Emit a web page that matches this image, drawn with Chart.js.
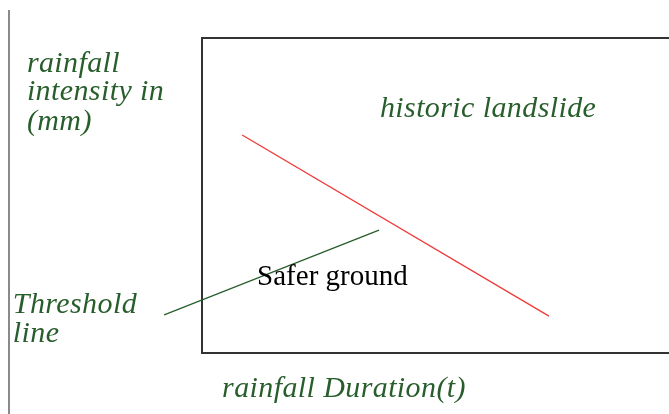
<!DOCTYPE html>
<html>
<head>
<meta charset="utf-8">
<script src="https://cdn.jsdelivr.net/npm/chart.js@4/dist/chart.umd.min.js"></script>
<style>
  html, body { margin: 0; padding: 0; background: #fff; overflow: hidden; }
</style>
</head>
<body>
<canvas id="myChart" width="669" height="414"></canvas>
<script>
// dati del grafico (durata sull'asse x, intensita sull'asse y, scala 0-100)
var durationLandslide = [8.6, 74.3];
var intensityLandslide = [69.2, 11.7];
var durationThreshold = [-8.1, 37.9];
var intensityThreshold = [12.1, 39.0];

// etichette di testo
var labelTexts = ['rainfall', 'intensity in', '(mm)', 'historic landslide', 'Safer ground', 'Threshold', 'line', 'rainfall Duration(t)'];
var labelX = [-37.5, -37.5, -37.5, 38.1, 11.8, -40.5, -40.5, 4.3];
var labelY = [89.2, 80.3, 70.8, 74.9, 21.6, 12.7, 3.5, -14.0];

var green = '#285e2c';
var italicFont = 'italic 30px "Liberation Serif", serif';
var plainFont = '29px "Liberation Serif", serif';

function points(xs, ys) {
  return xs.map(function (x, i) { return { x: x, y: ys[i] }; });
}

// plugin per le scritte e la linea grigia a sinistra
var textPlugin = {
  id: 'texts',
  afterDraw: function (chart) {
    var ctx = chart.ctx;
    var xs = chart.scales.x, ys = chart.scales.y;
    ctx.save();
    ctx.strokeStyle = '#8a8a8a';
    ctx.lineWidth = 2;
    ctx.beginPath();
    ctx.moveTo(9, 10);
    ctx.lineTo(9, 414);
    ctx.stroke();
    ctx.textBaseline = 'alphabetic';
    ctx.textAlign = 'left';
    labelTexts.forEach(function (t, i) {
      var plain = t === 'Safer ground';
      ctx.font = plain ? plainFont : italicFont;
      ctx.letterSpacing = plain ? '0px' : '0.4px';
      ctx.fillStyle = plain ? '#000' : green;
      ctx.fillText(t, xs.getPixelForValue(labelX[i]), ys.getPixelForValue(labelY[i]));
    });
    ctx.restore();
  }
};

var ctx = document.getElementById('myChart').getContext('2d');

var myChart = new Chart(ctx, {
  type: 'scatter',
  data: {
    datasets: [{
      label: 'historic landslide',
      data: points(durationLandslide, intensityLandslide),
      showLine: true,
      borderColor: '#f03a3a',
      borderWidth: 1.3,
      pointRadius: 0,
      clip: false
    }, {
      label: 'Threshold line',
      data: points(durationThreshold, intensityThreshold),
      showLine: true,
      borderColor: green,
      borderWidth: 1.3,
      pointRadius: 0,
      clip: false
    }]
  },
  options: {
    responsive: false,
    animation: false,
    layout: { padding: { left: 202, top: 38, right: 0, bottom: 61 } },
    plugins: { legend: { display: false }, tooltip: { enabled: false } },
    scales: {
      x: {
        type: 'linear', position: 'bottom', min: 0, max: 100,
        grid: { display: false, drawTicks: false, tickLength: 0 },
        ticks: { display: false },
        border: { display: true, color: '#333', width: 2 }
      },
      x2: {
        type: 'linear', position: 'top', min: 0, max: 100,
        grid: { display: false, drawTicks: false, tickLength: 0 },
        ticks: { display: false },
        border: { display: true, color: '#333', width: 2 }
      },
      y: {
        type: 'linear', position: 'left', min: 0, max: 100,
        grid: { display: false, drawTicks: false, tickLength: 0 },
        ticks: { display: false },
        border: { display: true, color: '#333', width: 2 }
      }
    }
  },
  plugins: [textPlugin]
});
</script>
</body>
</html>
